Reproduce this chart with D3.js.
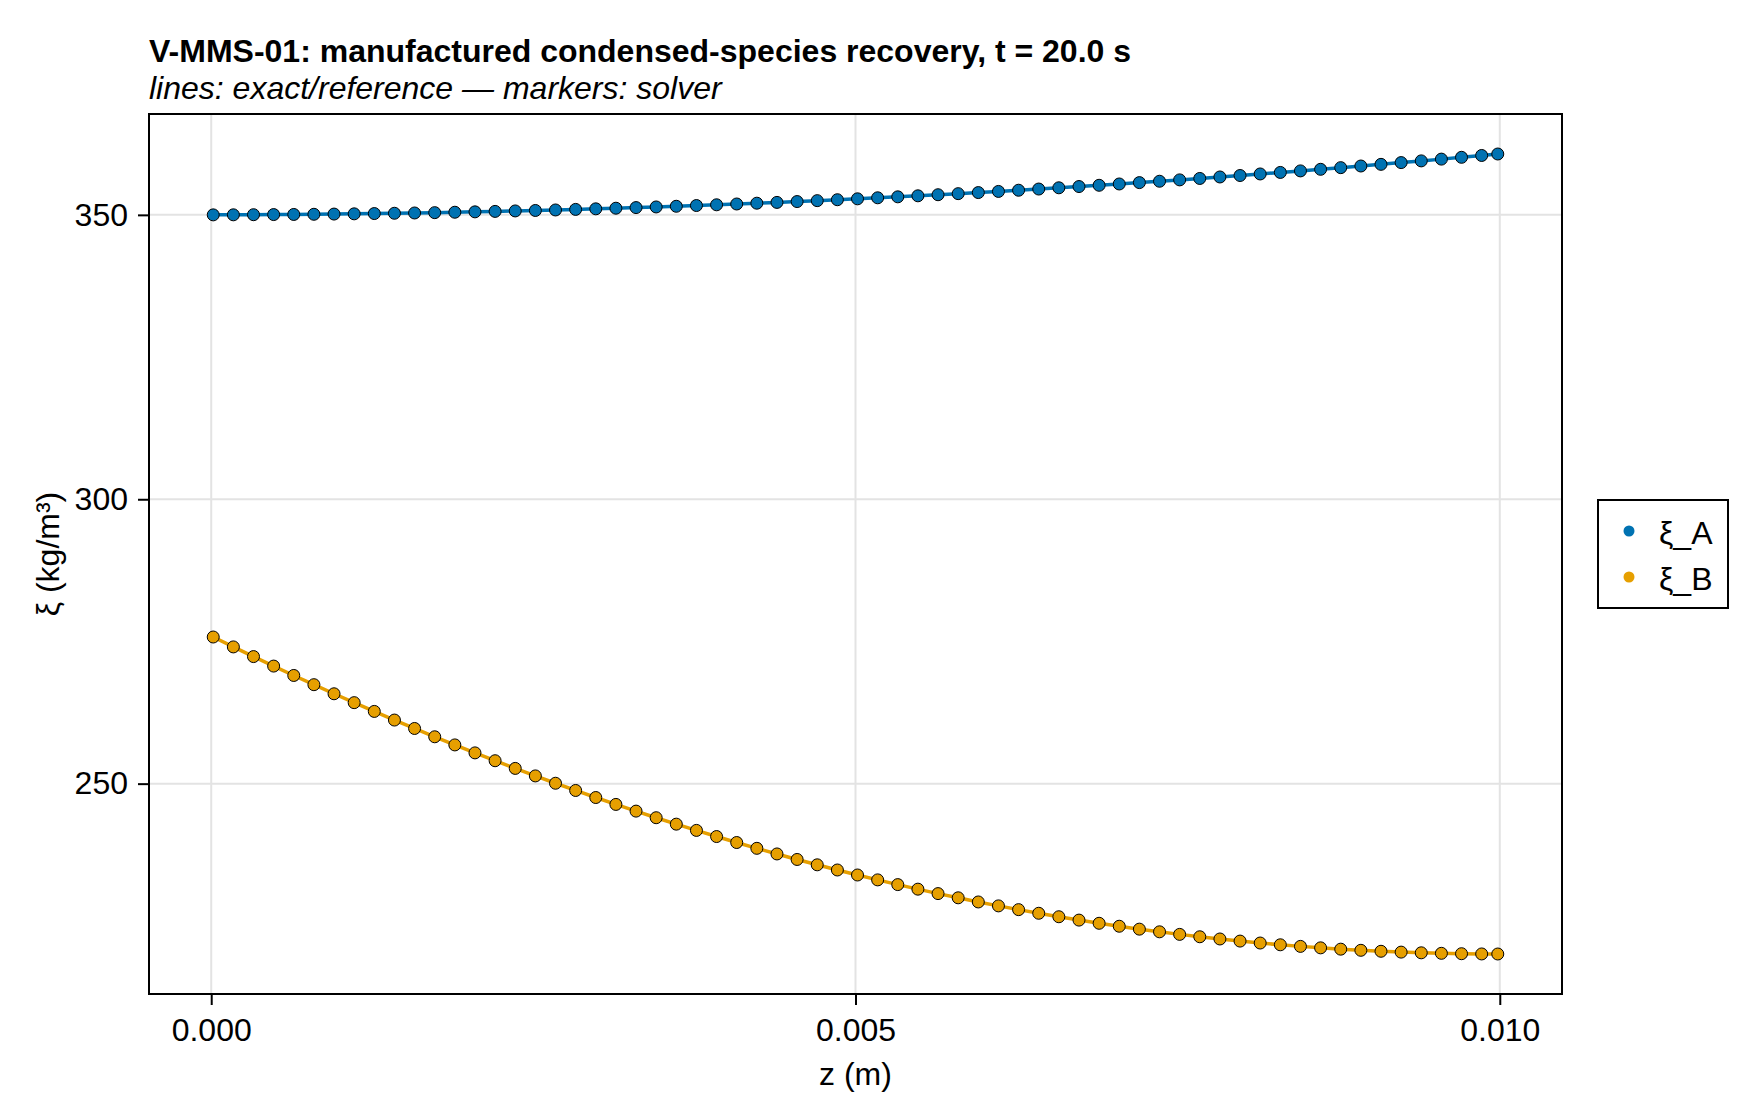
<!DOCTYPE html>
<html lang="en">
<head>
    <meta charset="UTF-8">
    <title>V-MMS-01 condensed-species recovery</title>
    <script src="https://d3js.org/d3.v7.min.js"></script>
    <style>
        body {
            margin: 0;
            background-color: #fff;
        }
        svg text {
            font-family: "Liberation Sans", Arial, sans-serif;
            fill: #000;
        }
        .grid line {
            stroke: #e3e3e3;
            stroke-width: 2;
        }
        .tick-label {
            font-size: 32px;
        }
        .axis-title {
            font-size: 32px;
        }
        .marker {
            stroke: #000;
            stroke-width: 1;
        }
    </style>
</head>
<body>
    <svg width="1760" height="1120"></svg>

    <script>
        // solver output points (cell centres, every 5th cell + last)
        const zValues = [
            0.0000156, 0.0001719, 0.0003281, 0.0004844, 0.0006406, 0.0007969, 0.0009531, 0.0011094,
            0.0012656, 0.0014219, 0.0015781, 0.0017344, 0.0018906, 0.0020469, 0.0022031, 0.0023594,
            0.0025156, 0.0026719, 0.0028281, 0.0029844, 0.0031406, 0.0032969, 0.0034531, 0.0036094,
            0.0037656, 0.0039219, 0.0040781, 0.0042344, 0.0043906, 0.0045469, 0.0047031, 0.0048594,
            0.0050156, 0.0051719, 0.0053281, 0.0054844, 0.0056406, 0.0057969, 0.0059531, 0.0061094,
            0.0062656, 0.0064219, 0.0065781, 0.0067344, 0.0068906, 0.0070469, 0.0072031, 0.0073594,
            0.0075156, 0.0076719, 0.0078281, 0.0079844, 0.0081406, 0.0082969, 0.0084531, 0.0086094,
            0.0087656, 0.0089219, 0.0090781, 0.0092344, 0.0093906, 0.0095469, 0.0097031, 0.0098594,
            0.0099844
        ];
        const xiA = [
            350.00, 350.01, 350.03, 350.05, 350.07, 350.10, 350.14, 350.18,
            350.23, 350.28, 350.33, 350.39, 350.46, 350.53, 350.61, 350.69,
            350.77, 350.86, 350.96, 351.06, 351.17, 351.28, 351.39, 351.51,
            351.64, 351.77, 351.91, 352.05, 352.19, 352.34, 352.50, 352.66,
            352.82, 353.00, 353.17, 353.35, 353.54, 353.73, 353.92, 354.12,
            354.33, 354.54, 354.76, 354.98, 355.20, 355.43, 355.67, 355.91,
            356.15, 356.40, 356.66, 356.92, 357.19, 357.46, 357.73, 358.01,
            358.30, 358.59, 358.88, 359.19, 359.49, 359.80, 360.12, 360.44,
            360.70
        ];
        const xiB = [
            275.78, 274.04, 272.34, 270.67, 269.02, 267.40, 265.80, 264.24,
            262.70, 261.18, 259.70, 258.24, 256.81, 255.41, 254.03, 252.68,
            251.36, 250.07, 248.80, 247.56, 246.35, 245.17, 244.01, 242.88,
            241.78, 240.70, 239.65, 238.63, 237.64, 236.67, 235.73, 234.82,
            233.94, 233.08, 232.25, 231.45, 230.67, 229.93, 229.20, 228.51,
            227.85, 227.21, 226.60, 226.01, 225.45, 224.93, 224.42, 223.95,
            223.50, 223.08, 222.69, 222.32, 221.98, 221.67, 221.39, 221.13,
            220.90, 220.70, 220.53, 220.38, 220.26, 220.17, 220.10, 220.06,
            220.05
        ];
        const seriesNames = ["ξ_A", "ξ_B"];
        const seriesColors = ["#0072b2", "#e69f00"];
        const xTicks = [0.000, 0.005, 0.010];
        const yTicks = [250, 300, 350];

        const series = seriesNames.map((name, i) => ({
            name: name,
            color: seriesColors[i],
            values: zValues.map((z, j) => ({ z: z, v: [xiA, xiB][i][j] }))
        }));

        const svg = d3.select("svg"),
              margin = { top: 114, right: 198, bottom: 126, left: 149 },
              width = +svg.attr("width") - margin.left - margin.right,
              height = +svg.attr("height") - margin.top - margin.bottom,
              g = svg.append("g").attr("transform", `translate(${margin.left},${margin.top})`);

        // 5% padding around the data, like the original plot
        function padded(ext) {
            const pad = (ext[1] - ext[0]) * 0.05;
            return [ext[0] - pad, ext[1] + pad];
        }

        const x = d3.scaleLinear()
                    .domain(padded(d3.extent(zValues)))
                    .range([0, width]);

        const y = d3.scaleLinear()
                    .domain(padded(d3.extent(xiA.concat(xiB))))
                    .range([height, 0]);

        // grid
        const grid = g.append("g").attr("class", "grid");
        grid.selectAll(".gx")
            .data(xTicks)
            .enter().append("line")
            .attr("x1", d => x(d)).attr("x2", d => x(d))
            .attr("y1", 0).attr("y2", height);
        grid.selectAll(".gy")
            .data(yTicks)
            .enter().append("line")
            .attr("x1", 0).attr("x2", width)
            .attr("y1", d => y(d)).attr("y2", d => y(d));

        const line = d3.line()
                       .x(d => x(d.z))
                       .y(d => y(d.v));

        series.forEach(s => {
            g.append("path")
                .datum(s.values)
                .attr("fill", "none")
                .attr("stroke", s.color)
                .attr("stroke-width", 3.5)
                .attr("d", line);

            g.selectAll(null)
                .data(s.values)
                .enter().append("circle")
                .attr("class", "marker")
                .attr("cx", d => x(d.z))
                .attr("cy", d => y(d.v))
                .attr("r", 6)
                .attr("fill", s.color);
        });

        // frame
        g.append("rect")
            .attr("width", width)
            .attr("height", height)
            .attr("fill", "none")
            .attr("stroke", "#000")
            .attr("stroke-width", 2);

        // axes
        const xAxis = g.append("g")
            .attr("transform", `translate(0,${height})`)
            .call(d3.axisBottom(x).tickValues(xTicks).tickFormat(d3.format(".3f")).tickSize(11).tickPadding(13));
        const yAxis = g.append("g")
            .call(d3.axisLeft(y).tickValues(yTicks).tickSize(11).tickPadding(10));

        [xAxis, yAxis].forEach(a => {
            a.select(".domain").remove();
            a.selectAll(".tick line").attr("stroke", "#000").attr("stroke-width", 2);
            a.selectAll(".tick text")
                .attr("class", "tick-label")
                .attr("font-family", null)
                .attr("font-size", null);
        });

        // axis titles
        g.append("text")
            .attr("class", "axis-title")
            .attr("x", width / 2)
            .attr("y", height + 91)
            .attr("text-anchor", "middle")
            .text("z (m)");

        g.append("text")
            .attr("class", "axis-title")
            .attr("transform", `translate(${59 - margin.left},${height / 2}) rotate(-90)`)
            .attr("text-anchor", "middle")
            .text("ξ (kg/m³)");

        // title + subtitle
        svg.append("text")
            .attr("x", margin.left)
            .attr("y", 62)
            .attr("font-size", 32)
            .attr("font-weight", "bold")
            .text("V-MMS-01: manufactured condensed-species recovery, t = 20.0 s");

        svg.append("text")
            .attr("x", margin.left)
            .attr("y", 99)
            .attr("font-size", 32)
            .attr("font-style", "italic")
            .text("lines: exact/reference — markers: solver");

        // legend
        const legend = svg.append("g").attr("transform", "translate(1598,500)");
        legend.append("rect")
            .attr("width", 130)
            .attr("height", 108)
            .attr("fill", "#fff")
            .attr("stroke", "#000")
            .attr("stroke-width", 2);

        const entry = legend.selectAll(".entry")
            .data(series)
            .enter().append("g")
            .attr("transform", (d, i) => `translate(0,${31 + i * 46})`);
        entry.append("circle")
            .attr("cx", 31)
            .attr("r", 5.5)
            .attr("fill", d => d.color);
        entry.append("text")
            .attr("x", 61)
            .attr("dy", "0.4em")
            .attr("font-size", 32)
            .text(d => d.name);
    </script>
</body>
</html>
